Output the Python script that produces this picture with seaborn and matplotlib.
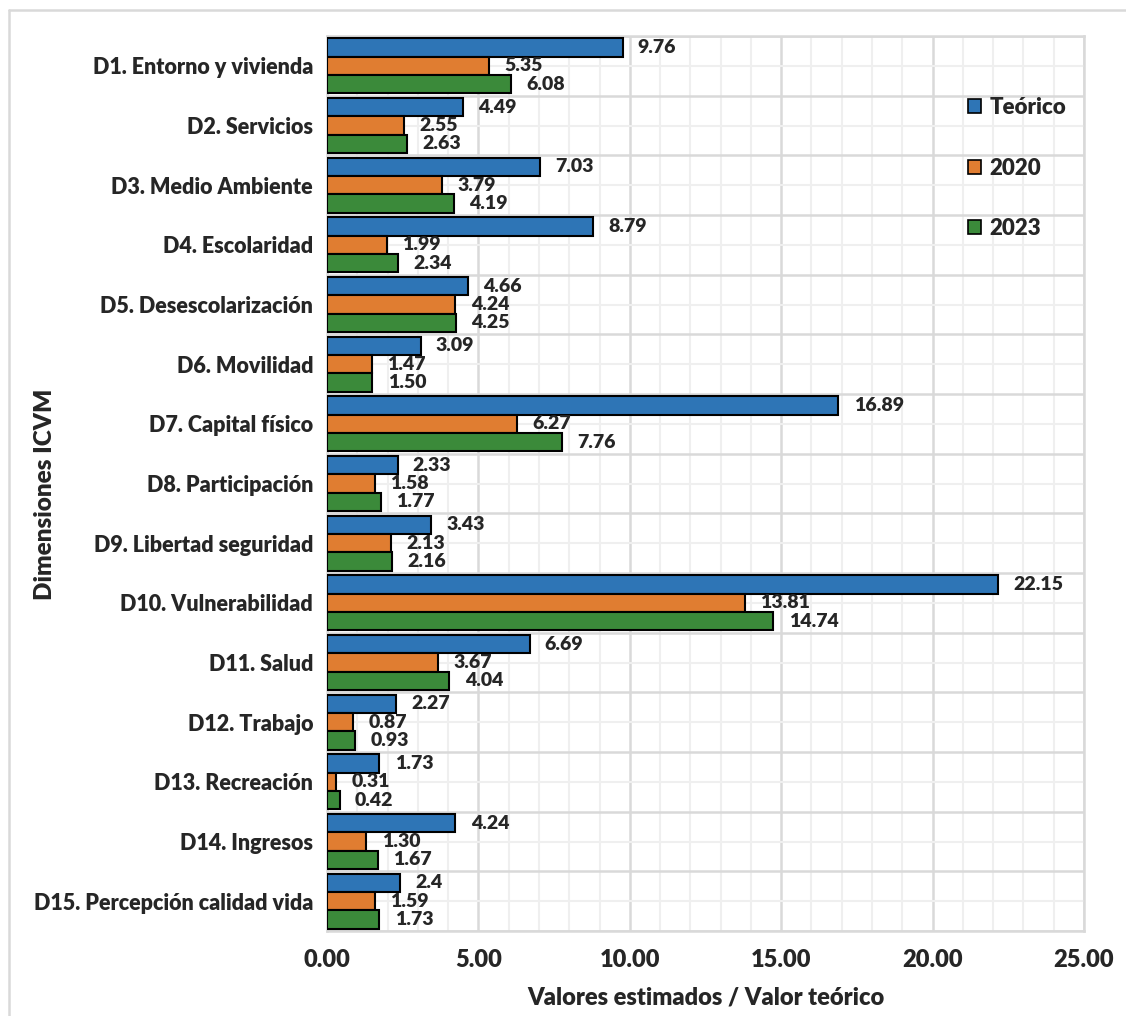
import numpy as np
import pandas as pd
import seaborn as sns
from matplotlib import pyplot as plt
from matplotlib.ticker import MultipleLocator, FixedLocator
from matplotlib.lines import Line2D

dimensiones = ["D1. Entorno y vivienda", "D2. Servicios", "D3. Medio Ambiente",
               "D4. Escolaridad", "D5. Desescolarización", "D6. Movilidad",
               "D7. Capital físico", "D8. Participación", "D9. Libertad seguridad",
               "D10. Vulnerabilidad", "D11. Salud", "D12. Trabajo",
               "D13. Recreación", "D14. Ingresos", "D15. Percepción calidad vida"]
teorico = [9.76, 4.49, 7.03, 8.79, 4.66, 3.09, 16.89, 2.33, 3.43, 22.15, 6.69, 2.27, 1.73, 4.24, 2.40]
v2020 = [5.35, 2.55, 3.79, 1.99, 4.24, 1.47, 6.27, 1.58, 2.13, 13.81, 3.67, 0.87, 0.31, 1.30, 1.59]
v2023 = [6.08, 2.63, 4.19, 2.34, 4.25, 1.50, 7.76, 1.77, 2.16, 14.74, 4.04, 0.93, 0.42, 1.67, 1.73]
series = ["Teórico", "2020", "2023"]
# the source shows "2.4" without trailing zero for this one
label_fmt = {"Teórico": ["%.2f"] * 14 + ["%.1f"], "2020": ["%.2f"] * 15, "2023": ["%.2f"] * 15}

df = pd.DataFrame({
    "dim": dimensiones * 3,
    "serie": np.repeat(series, len(dimensiones)),
    "valor": teorico + v2020 + v2023,
})

sns.set_style("white")
plt.rcParams["font.family"] = ["Lato", "DejaVu Sans"]
W = "heavy"
plt.rcParams["font.weight"] = W

fig = plt.figure(figsize=(11.26, 10.16), dpi=100)
ax = fig.add_axes([327 / 1126, 1 - 931 / 1016, (1084 - 327) / 1126, (931 - 36) / 1016])

colores = ["#2E75B6", "#E07D31", "#3B8A3A"]
sns.barplot(data=df, y="dim", x="valor", hue="serie", orient="h", palette=colores,
            saturation=1, width=0.92, edgecolor="black", linewidth=1.5, ax=ax, zorder=3)

for cont, s in zip(ax.containers, series):
    labels = [f % v for f, v in zip(label_fmt[s], cont.datavalues)]
    ax.bar_label(cont, labels=labels, padding=11, fontsize=14, fontweight=W)

ax.set_xlim(0, 25)
ax.set_ylim(14.5, -0.5)
ax.xaxis.set_major_locator(MultipleLocator(5))
ax.xaxis.set_minor_locator(MultipleLocator(1))
ax.yaxis.set_minor_locator(FixedLocator(np.arange(-0.5, 15, 1)))
ax.grid(which="major", axis="x", color="#d9d9d9", linewidth=1.8, zorder=0)
ax.grid(which="minor", axis="x", color="#efefef", linewidth=1.5, zorder=0)
ax.grid(which="minor", axis="y", color="#d9d9d9", linewidth=1.8, zorder=0)
ax.grid(which="major", axis="y", color="#efefef", linewidth=1.5, zorder=0)
ax.set_axisbelow(True)
for sp in ax.spines.values():
    sp.set_color("#d9d9d9")
    sp.set_linewidth(1.8)

ax.xaxis.set_major_formatter(lambda v, p: f"{v:.2f}")
ax.tick_params(axis="x", which="both", length=0, pad=13, labelsize=17)
ax.tick_params(axis="y", which="both", length=0, pad=10, labelsize=15.5)
for t in ax.get_xticklabels() + ax.get_yticklabels():
    t.set_fontweight(W)
ax.set_xlabel("Valores estimados / Valor teórico", fontsize=17, fontweight=W)
ax.set_ylabel("Dimensiones ICVM", fontsize=17.5, fontweight=W)
ax.xaxis.set_label_coords((327 + 1084) / 2 / 1126, 1 - 986 / 1016, transform=fig.transFigure)
ax.yaxis.set_label_coords(56 / 1126, 1 - 494 / 1016, transform=fig.transFigure)

leg = ax.legend(loc="upper left", bbox_to_anchor=(957 / 1126, 1 - 86 / 1016),
                bbox_transform=fig.transFigure, frameon=False, fontsize=16,
                handlelength=0.6, handleheight=0.6, handletextpad=0.35,
                labelspacing=1.78, borderpad=0)
for h in leg.legend_handles:
    h.set_edgecolor("black")
    h.set_linewidth(1.2)
for t in leg.get_texts():
    t.set_fontweight(W)

# outer chart border (cropped at right and bottom in the source)
fig.add_artist(Line2D([9 / 1126, 9 / 1126], [0, 1 - 10 / 1016], color="#d9d9d9", lw=1.8,
                      transform=fig.transFigure))
fig.add_artist(Line2D([9 / 1126, 1], [1 - 10 / 1016, 1 - 10 / 1016], color="#d9d9d9", lw=1.8,
                      transform=fig.transFigure))

fig.savefig("out.png", dpi=100)
